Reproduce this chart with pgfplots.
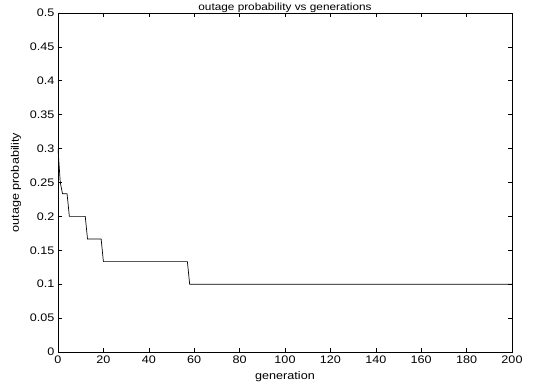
\documentclass[border=0pt]{standalone}
\usepackage{fontspec}
\setmainfont{Liberation Sans}[FakeStretch=1.15]
\usepackage{pgfplots}
\pgfplotsset{compat=1.18}
\pgfplotsset{every axis title shift=0pt}
\begin{document}
\begin{tikzpicture}
\begin{axis}[
  at={(0,0)}, anchor=south west,
  scale only axis,
  width=454bp, height=339bp,
  xmin=0, xmax=200, ymin=0, ymax=0.5,
  xtick={0,20,...,200},
  ytick={0,0.05,...,0.5},
  yticklabels={0,0.05,0.1,0.15,0.2,0.25,0.3,0.35,0.4,0.45,0.5},
  tick align=inside,
  tick pos=both,
  major tick length=4bp,
  tick style={black, line width=0.6pt},
  axis line style={black, line width=0.7pt},
  /pgf/number format/assume math mode=true,
  ticklabel style={font=\fontsize{11}{13}\selectfont},
  title={outage probability vs generations},
  title style={font=\fontsize{10.3}{12}\selectfont, at={(0.5,1)}, anchor=base, yshift=2.5bp, inner sep=0bp},
  xlabel={generation},
  ylabel={outage probability},
  label style={font=\fontsize{11}{13}\selectfont},
  xlabel style={at={(axis description cs:0.5,0)}, anchor=center, yshift=-25bp},
  ylabel style={at={(axis description cs:-0.0925,0.5)}, anchor=center},
]
\addplot[black, line width=0.7pt, mark=none] coordinates {
(0,0.3) (1,0.25) (2,0.2333) (4,0.2333) (5,0.2) (12,0.2) (13,0.1667) (19,0.1667) (20,0.1333) (57,0.1333) (58,0.1) (200,0.1)
};
\end{axis}
\pgfresetboundingbox
\useasboundingbox (-58bp,-32bp) rectangle (484bp,352bp);
\end{tikzpicture}
\end{document}
